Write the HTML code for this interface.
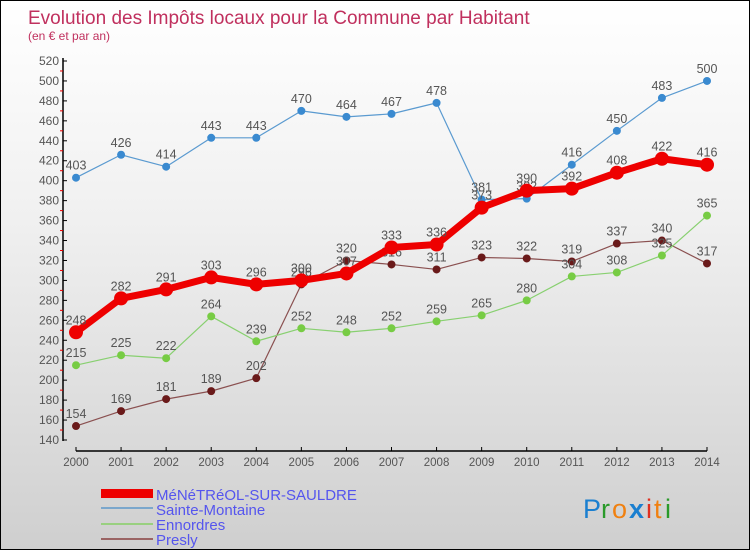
<!DOCTYPE html>
<html><head><meta charset="utf-8"><style>
body{margin:0}
#c{width:750px;height:550px;position:relative;box-sizing:border-box;border:1px solid #000;background:linear-gradient(#fff 0%,#f0f0f0 40%,#cfcfcf 100%);font-family:"Liberation Sans",sans-serif;overflow:hidden}
</style></head><body>
<div id="c">
<svg id="s" width="750" height="550" style="position:absolute;left:0;top:0">
<text x="27" y="23" font-size="19" fill="#c0305e">Evolution des Impôts locaux pour la Commune par Habitant</text>
<text x="27" y="39" font-size="12" fill="#c0305e">(en € et par an)</text>
<g id="g"></g>
<g>
<rect x="100" y="488" width="52" height="9" fill="#e00"/>
<text x="155" y="499" font-size="15" fill="#5555ee">MéNéTRéOL-SUR-SAULDRE</text>
<rect x="100" y="506" width="52" height="2" fill="#7ba7cc"/>
<text x="155" y="514" font-size="15" fill="#5555ee">Sainte-Montaine</text>
<rect x="100" y="522" width="52" height="2" fill="#99d080"/>
<text x="155" y="529" font-size="15" fill="#5555ee">Ennordres</text>
<rect x="100" y="537" width="52" height="2" fill="#9a6464"/>
<text x="155" y="544" font-size="15" fill="#5555ee">Presly</text>
</g>
<g font-size="27">
<text x="582" y="517" fill="#1a7fd0">P</text><text x="600" y="517" fill="#2a9a2a">r</text><text x="611" y="517" fill="#f08010">o</text><text x="628" y="517" fill="#1a7fd0" font-weight="bold">x</text><text x="645" y="517" fill="#e03020">i</text><text x="653" y="517" fill="#f08010">t</text><text x="664" y="517" fill="#2a9a2a">i</text>
</g>
</svg>
</div>
<script>
const years=[2000,2001,2002,2003,2004,2005,2006,2007,2008,2009,2010,2011,2012,2013,2014];
const yTicks=[140,160,180,200,220,240,260,280,300,320,340,360,380,400,420,440,460,480,500,520];
const menetreol=[248,282,291,303,296,300,307,333,336,373,390,392,408,422,416];
const sainteMontaine=[403,426,414,443,443,470,464,467,478,381,382,416,450,483,500];
const ennordres=[215,225,222,264,239,252,248,252,259,265,280,304,308,325,365];
const presly=[154,169,181,189,202,296,320,316,311,323,322,319,337,340,317];
const NS="http://www.w3.org/2000/svg";
const g=document.getElementById('g');
function X(i){return 75+i*(706-75)/(years.length-1);}
function Y(v){return 439-(v-140)*(439-60)/(520-140);}
function mk(t,a,p){const e=document.createElementNS(NS,t);for(const k in a)e.setAttribute(k,a[k]);(p||g).appendChild(e);return e;}
let ax=mk('line',{x1:62,y1:57,x2:62,y2:440,stroke:'#000','stroke-width':1.5});


let bx=mk('line',{x1:75,y1:450,x2:706,y2:450,stroke:'#000','stroke-width':1.5});


yTicks.forEach((v,i)=>{
  mk('line',{x1:62,y1:Y(v),x2:66,y2:Y(v),stroke:'#000'});
  if(i<yTicks.length-1)mk('line',{x1:59,y1:Y(v+10),x2:62,y2:Y(v+10),stroke:'#e00'});
  const t=mk('text',{x:58,y:Y(v)+4,'text-anchor':'end','font-size':12,fill:'#555'});t.textContent=v;
  
  
});
years.forEach((yr,i)=>{
  mk('line',{x1:X(i),y1:446,x2:X(i),y2:450,stroke:'#000'});
  const t=mk('text',{x:X(i),y:465,'text-anchor':'middle','font-size':11.5,fill:'#555'});t.textContent=yr;
  
  
});
function series(d,name,col,dot,w,r){
  const sg=mk('g',{});
  
  
  const p=mk('polyline',{points:d.map((v,i)=>X(i)+','+Y(v)).join(' '),fill:'none',stroke:col,'stroke-width':w,'stroke-linejoin':'round'},sg);
  
  
  d.forEach((v,i)=>{
    const c=mk('circle',{cx:X(i),cy:Y(v),r:r,fill:dot},sg);
    
    
    const t=mk('text',{x:X(i),y:Y(v)-8,'text-anchor':'middle','font-size':12.5,fill:'#555'},sg);t.textContent=v;
    
    
  });
}
series(presly,'presly','#8a5050','#6a1a1a',1.2,4);
series(ennordres,'ennordres','#88d070','#77cc44',1.2,4);
series(sainteMontaine,'sainte-montaine','#5a9ad0','#3a8ad0',1.2,4);
series(menetreol,'menetreol','#ee0000','#ee0000',7,7);
</script>
</body></html>
